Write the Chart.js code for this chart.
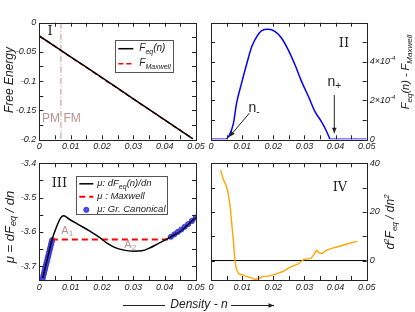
<!DOCTYPE html>
<html>
<head>
<meta charset="utf-8">
<script src="https://cdn.jsdelivr.net/npm/chart.js@4.4.1/dist/chart.umd.min.js"></script>
<style>
  html, body { margin: 0; padding: 0; background: #fff; }
  #wrap { position: relative; width: 415px; height: 312px; }
  #wrap canvas { position: absolute; left: 0; top: 0; }
</style>
</head>
<body>
<div id="wrap">
  <canvas id="c1" width="415" height="312"></canvas>
  <canvas id="c2" width="415" height="312"></canvas>
  <canvas id="c3" width="415" height="312"></canvas>
  <canvas id="c4" width="415" height="312"></canvas>
</div>
<script>
// ---- data ----
// panel I : free energy
const densityF = [0, 0.005, 0.01, 0.015, 0.02, 0.025, 0.03, 0.035, 0.04, 0.045, 0.049];
const fEq      = [-0.0228, -0.0408, -0.0585, -0.0763, -0.0942, -0.1123, -0.1305, -0.1487, -0.1668, -0.1848, -0.1992];
const fMaxwell = [-0.0228, -0.0408, -0.0588, -0.0768, -0.0948, -0.1128, -0.1308, -0.1488, -0.1668, -0.1848, -0.1992];
const pmFmDensity = 0.0069;

// panel II : F_eq - F_Maxwell
const densityDiff = [0, 0.0045, 0.0059, 0.0072, 0.0082, 0.0098, 0.0115, 0.0131, 0.0147, 0.0163, 0.0184, 0.0206,
                     0.0227, 0.0248, 0.027, 0.0291, 0.0313, 0.0334, 0.0355, 0.0369, 0.038, 0.0382, 0.05];
const fDiff = [0, 0, 0.22e-4, 0.82e-4, 1.85e-4, 2.88e-4, 3.9e-4, 4.77e-4, 5.28e-4, 5.59e-4, 5.66e-4, 5.54e-4,
               5.2e-4, 4.6e-4, 3.82e-4, 2.97e-4, 2.2e-4, 1.42e-4, 0.9e-4, 0.48e-4, 0.08e-4, 0, 0];
const diffTickLabels = [0, 2e-4, 4e-4];

// panel III : chemical potential
const densityMu = [0.0011, 0.002, 0.003, 0.004, 0.0053, 0.0064, 0.0072, 0.0078, 0.0096, 0.0128, 0.016, 0.0192,
                   0.0215, 0.024, 0.027, 0.030, 0.0327, 0.0354, 0.0375, 0.0396, 0.042, 0.045, 0.0499];
const muEq = [-3.735, -3.700, -3.662, -3.624, -3.590, -3.566, -3.555, -3.553, -3.563, -3.580, -3.597, -3.616,
              -3.632, -3.645, -3.653, -3.656, -3.655, -3.646, -3.636, -3.626, -3.614, -3.598, -3.558];
const densityMaxwell = [0.004, 0.0412];
const muMaxwell = [-3.622, -3.622];
const densityGc = [0.0011, 0.0013, 0.0015, 0.0017, 0.0019, 0.0021, 0.0023, 0.0025, 0.0027, 0.0029, 0.0031,
                   0.0033, 0.0035, 0.0037, 0.0039, 0.0041,
                   0.042, 0.0431, 0.0442, 0.0453, 0.0464, 0.0475, 0.0487, 0.0499];
const muGc = [-3.735, -3.727, -3.720, -3.712, -3.705, -3.697, -3.690, -3.683, -3.675, -3.668, -3.660,
              -3.653, -3.646, -3.638, -3.631, -3.624,
              -3.614, -3.607, -3.600, -3.593, -3.585, -3.577, -3.568, -3.558];

// panel IV : second derivative
const densityCurv = [0.0031, 0.004, 0.0048, 0.0054, 0.0061, 0.0066, 0.0072, 0.0077, 0.0082, 0.009, 0.0104, 0.012,
                     0.0131, 0.0141, 0.0152, 0.0168, 0.0184, 0.0206, 0.0232, 0.0254, 0.028, 0.0296, 0.0307, 0.032,
                     0.0328, 0.0339, 0.0348, 0.0358, 0.0369, 0.0393, 0.0414, 0.0436, 0.0452, 0.047];
const curvature = [37.2, 33.2, 31.1, 28.4, 22.9, 16.1, 7.9, -0.3, -3.7, -5.5, -6.0, -6.8,
                   -7.1, -7.8, -7.4, -6.5, -6.4, -5.7, -4.4, -2.7, -1.4, 0.3, 0.7, 0.8,
                   2.0, 4.2, 3.1, 2.9, 4.2, 5.2, 5.9, 6.8, 7.4, 7.9];

const xTicks = [0, 0.01, 0.02, 0.03, 0.04, 0.05];

// ---- helpers ----
const W = 415, H = 312;
const SANS = '"Liberation Sans", Arial, sans-serif';
const SERIF = '"DejaVu Serif", serif';
const INK = '#222';
const ROSY = '#bc8f8f';

const pts = (xs, ys) => xs.map((x, i) => ({ x: x, y: ys[i] }));
const isMult = (v, step) => Math.abs(v / step - Math.round(v / step)) < 1e-6;
const fmt = v => String(+v.toFixed(4));

function drawRich(ctx, segs, x, y, o) {
  const sz = o.size, fam = o.family || SANS, st = o.style || 'italic';
  const fontFor = k => st + ' ' + (k === 'n' ? sz : Math.round(sz * 0.7)) + 'px ' + fam;
  let total = 0;
  const widths = segs.map(([t, k]) => {
    ctx.font = fontFor(k);
    const w = ctx.measureText(t).width;
    total += w;
    return w;
  });
  ctx.save();
  ctx.translate(x, y);
  if (o.rotate) ctx.rotate(o.rotate);
  ctx.fillStyle = o.color || INK;
  ctx.textBaseline = 'middle';
  ctx.textAlign = 'left';
  let cx = o.align === 'left' ? 0 : (o.align === 'right' ? -total : -total / 2);
  segs.forEach(([t, k], i) => {
    ctx.font = fontFor(k);
    const dy = k === 'sub' ? sz * 0.3 : (k === 'sup' ? -sz * 0.38 : 0);
    ctx.fillText(t, cx, dy);
    cx += widths[i];
  });
  ctx.restore();
}

function arrow(ctx, x1, y1, x2, y2) {
  const a = Math.atan2(y2 - y1, x2 - x1), L = 6;
  ctx.beginPath();
  ctx.moveTo(x1, y1);
  ctx.lineTo(x2, y2);
  ctx.stroke();
  ctx.beginPath();
  ctx.moveTo(x2, y2);
  ctx.lineTo(x2 - L * Math.cos(a - 0.4), y2 - L * Math.sin(a - 0.4));
  ctx.lineTo(x2 - L * Math.cos(a + 0.4), y2 - L * Math.sin(a + 0.4));
  ctx.closePath();
  ctx.fill();
}

// frame + inward tick marks on all four sides, plus text annotations in data units
const framePlugin = {
  id: 'frame',
  afterDatasetsDraw(chart, args, opts) {
    const ctx = chart.ctx, a = chart.chartArea;
    const xs = chart.scales.x, ys = chart.scales.y;
    ctx.save();
    ctx.strokeStyle = INK;
    ctx.lineWidth = 1;
    const T = 4;
    xs.ticks.forEach(t => {
      const p = Math.round(xs.getPixelForValue(t.value)) + 0.5;
      if (p <= a.left + 1 || p >= a.right - 1) return;
      ctx.beginPath();
      ctx.moveTo(p, a.bottom); ctx.lineTo(p, a.bottom - T);
      ctx.moveTo(p, a.top); ctx.lineTo(p, a.top + T);
      ctx.stroke();
    });
    ys.ticks.forEach(t => {
      const p = Math.round(ys.getPixelForValue(t.value)) + 0.5;
      if (p <= a.top + 1 || p >= a.bottom - 1) return;
      ctx.beginPath();
      ctx.moveTo(a.left, p); ctx.lineTo(a.left + T, p);
      ctx.moveTo(a.right, p); ctx.lineTo(a.right - T, p);
      ctx.stroke();
    });
    ctx.strokeRect(Math.round(a.left) + 0.5, Math.round(a.top) + 0.5,
                   Math.round(a.right - a.left), Math.round(a.bottom - a.top));
    (opts.labels || []).forEach(l => {
      drawRich(ctx, l.segs, xs.getPixelForValue(l.x), ys.getPixelForValue(l.y),
               { size: l.size, family: l.family, style: l.style, color: l.color });
    });
    (opts.arrows || []).forEach(r => {
      ctx.strokeStyle = INK; ctx.fillStyle = INK; ctx.lineWidth = 1;
      arrow(ctx, xs.getPixelForValue(r.from[0]), ys.getPixelForValue(r.from[1]),
                 xs.getPixelForValue(r.to[0]), ys.getPixelForValue(r.to[1]));
    });
    // power-of-ten tick labels on the right axis
    (opts.powerLabels || []).forEach(v => {
      const segs = v === 0 ? [['0', 'n']] : [[Math.round(v * 1e4) + '\u00d710', 'n'], ['-4', 'sup']];
      drawRich(ctx, segs, a.right + 3, ys.getPixelForValue(v), { size: 9, align: 'left' });
    });
    ctx.restore();
  },
  afterDraw(chart, args, opts) {
    const ctx = chart.ctx, a = chart.chartArea;
    (opts.titles || []).forEach(t => {
      drawRich(ctx, t.segs, t.x, t.y, { size: t.size, rotate: -Math.PI / 2 });
    });
    const lg = opts.legend;
    if (lg) {
      const bx = a.left + lg.dx, by = a.top + lg.dy;
      ctx.save();
      ctx.fillStyle = '#fff';
      ctx.fillRect(bx, by, lg.w, lg.h);
      ctx.strokeStyle = '#555';
      ctx.lineWidth = 1;
      ctx.strokeRect(Math.round(bx) + 0.5, Math.round(by) + 0.5, lg.w, lg.h);
      lg.items.forEach((it, i) => {
        const ds = chart.data.datasets[it.ds];
        const yy = by + lg.first + i * lg.gap;
        if (it.kind === 'dot') {
          ctx.fillStyle = ds.backgroundColor;
          ctx.strokeStyle = ds.borderColor;
          ctx.lineWidth = 0.8;
          ctx.beginPath();
          ctx.arc(bx + lg.sx + lg.sw / 2, yy, ds.pointRadius, 0, Math.PI * 2);
          ctx.fill(); ctx.stroke();
        } else {
          ctx.strokeStyle = ds.borderColor;
          ctx.lineWidth = ds.borderWidth;
          ctx.setLineDash(ds.borderDash || []);
          ctx.beginPath();
          ctx.moveTo(bx + lg.sx, yy); ctx.lineTo(bx + lg.sx + lg.sw, yy);
          ctx.stroke();
          ctx.setLineDash([]);
        }
        drawRich(ctx, it.segs, bx + lg.tx, yy, { size: lg.size, align: 'left' });
      });
      ctx.restore();
    }
    if (opts.caption) opts.caption(ctx);
  }
};
Chart.register(framePlugin);

function makeOptions(area, xr, yr, yPos, yStep, yLabel, plug) {
  const yW = 36, xH = 14;
  const padding = {
    top: area.t,
    bottom: H - area.b - xH,
    left: yPos === 'left' ? area.l - yW : area.l,
    right: yPos === 'right' ? W - area.r - yW : W - area.r
  };
  const tickFont = { family: SANS, size: 9, style: 'italic' };
  return {
    responsive: false,
    animation: false,
    devicePixelRatio: 1,
    layout: { padding: padding },
    plugins: { legend: { display: false }, tooltip: { enabled: false }, frame: plug },
    scales: {
      x: {
        type: 'linear', min: xr[0], max: xr[1],
        grid: { display: false, drawTicks: false }, border: { display: false },
        afterFit: s => { s.height = xH; },
        ticks: {
          stepSize: 0.005, autoSkip: false, maxRotation: 0, padding: 2,
          color: INK, font: tickFont,
          callback: v => xTicks.some(t => Math.abs(t - v) < 1e-9) ? fmt(v) : ''
        }
      },
      y: {
        type: 'linear', position: yPos, min: yr[0], max: yr[1],
        grid: { display: false, drawTicks: false }, border: { display: false },
        afterFit: s => { s.width = yW; },
        ticks: { stepSize: yStep, autoSkip: false, padding: 3, color: INK, font: tickFont, callback: yLabel }
      }
    }
  };
}

// ---- panel I ----
new Chart(document.getElementById('c1'), {
  type: 'scatter',
  data: {
    datasets: [
      { data: pts(densityF, fEq), showLine: true, pointRadius: 0, borderColor: '#000', borderWidth: 1.5 },
      { data: pts(densityF, fMaxwell), showLine: true, pointRadius: 0, borderColor: '#ff0000', borderWidth: 1.5, borderDash: [5, 3] },
      { data: pts([pmFmDensity, pmFmDensity], [0, -0.2]), showLine: true, pointRadius: 0, borderColor: ROSY, borderWidth: 1, borderDash: [6, 2, 1, 2] }
    ]
  },
  options: makeOptions({ l: 39.3, t: 22.7, r: 196, b: 139.3 }, [0, 0.05], [-0.2, 0], 'left', 0.025,
    v => isMult(v, 0.05) ? fmt(v) : '',
    {
      labels: [
        { segs: [['I', 'n']], x: 0.0034, y: -0.0154, size: 13, family: SERIF, style: 'normal' },
        { segs: [['PM', 'n']], x: 0.0037, y: -0.164, size: 12, style: 'normal', color: ROSY },
        { segs: [['FM', 'n']], x: 0.0105, y: -0.164, size: 12, style: 'normal', color: ROSY }
      ],
      titles: [{ segs: [['Free Energy', 'n']], x: 10, y: 80, size: 12 }],
      legend: {
        dx: 76, dy: 17, w: 58, h: 32, first: 9, gap: 15, sx: 3, sw: 15, tx: 24, size: 10,
        items: [
          { ds: 0, segs: [['F', 'n'], ['eq', 'sub'], ['(n)', 'n']] },
          { ds: 1, segs: [['F', 'n'], ['Maxwell', 'sub']] }
        ]
      }
    })
});

// ---- panel II ----
new Chart(document.getElementById('c2'), {
  type: 'scatter',
  data: {
    datasets: [
      { data: pts(densityDiff, fDiff), showLine: true, pointRadius: 0, borderColor: '#0000ff', borderWidth: 1.5,
        cubicInterpolationMode: 'monotone' }
    ]
  },
  options: makeOptions({ l: 211, t: 22.7, r: 366.7, b: 139.3 }, [0, 0.05], [0, 6e-4], 'right', 1e-4,
    v => '',
    {
      powerLabels: diffTickLabels,
      labels: [
        { segs: [['II', 'n']], x: 0.0427, y: 4.94e-4, size: 13, family: SERIF, style: 'normal' },
        { segs: [['n', 'n'], ['-', 'sub']], x: 0.0138, y: 1.6e-4, size: 14, style: 'normal' },
        { segs: [['n', 'n'], ['+', 'sub']], x: 0.0396, y: 2.95e-4, size: 14, style: 'normal' }
      ],
      arrows: [
        { from: [0.0123, 1.34e-4], to: [0.0059, 0.13e-4] },
        { from: [0.0396, 2.28e-4], to: [0.0396, 0.31e-4] }
      ],
      titles: [{ segs: [['F', 'n'], ['eq', 'sub'], ['(n) - F', 'n'], ['Maxwell', 'sub']], x: 406, y: 72, size: 11 }]
    })
});

// ---- panel III ----
new Chart(document.getElementById('c3'), {
  type: 'scatter',
  data: {
    datasets: [
      { data: pts(densityMu, muEq), showLine: true, pointRadius: 0, borderColor: '#000', borderWidth: 1.5,
        cubicInterpolationMode: 'monotone' },
      { data: pts(densityMaxwell, muMaxwell), showLine: true, pointRadius: 0, borderColor: '#ff0000', borderWidth: 2, borderDash: [6, 4] },
      { data: pts(densityGc, muGc), showLine: false, pointRadius: 2.6, borderWidth: 0.8,
        backgroundColor: '#4d4dff', borderColor: '#2a2ad0' }
    ]
  },
  options: makeOptions({ l: 39.3, t: 163.3, r: 196, b: 280 }, [0, 0.05], [-3.74, -3.4], 'left', 0.05,
    v => isMult(v, 0.1) ? fmt(v) : '',
    {
      labels: [
        { segs: [['III', 'n']], x: 0.0064, y: -3.458, size: 13, family: SERIF, style: 'normal' },
        { segs: [['A', 'n'], ['1', 'sub']], x: 0.0089, y: -3.597, size: 11, style: 'normal', color: ROSY },
        { segs: [['A', 'n'], ['2', 'sub']], x: 0.029, y: -3.638, size: 11, style: 'normal', color: ROSY }
      ],
      titles: [{ segs: [['\u03bc = dF', 'n'], ['eq', 'sub'], [' / dn', 'n']], x: 10, y: 227, size: 13 }],
      legend: {
        dx: 37, dy: 13, w: 91, h: 38, first: 7.5, gap: 13, sx: 3, sw: 14, tx: 21, size: 9.5,
        items: [
          { ds: 0, segs: [['\u03bc: dF', 'n'], ['eq', 'sub'], ['(n)/dn', 'n']] },
          { ds: 1, segs: [['\u03bc : Maxwell', 'n']] },
          { ds: 2, kind: 'dot', segs: [['\u03bc: Gr. Canonical', 'n']] }
        ]
      },
      caption: ctx => {
        ctx.save();
        ctx.strokeStyle = INK; ctx.fillStyle = INK; ctx.lineWidth = 1;
        ctx.beginPath(); ctx.moveTo(123, 305.5); ctx.lineTo(165, 305.5); ctx.stroke();
        arrow(ctx, 231, 305.5, 274, 305.5);
        ctx.restore();
        drawRich(ctx, [['Density - n', 'n']], 199, 305, { size: 12 });
      }
    })
});

// ---- panel IV ----
new Chart(document.getElementById('c4'), {
  type: 'scatter',
  data: {
    datasets: [
      { data: pts(densityCurv, curvature), showLine: true, pointRadius: 0, borderColor: '#ffa500', borderWidth: 1.4 },
      { data: pts([0, 0.05], [0, 0]), showLine: true, pointRadius: 0, borderColor: '#000', borderWidth: 1 }
    ]
  },
  options: makeOptions({ l: 211, t: 163.3, r: 366.7, b: 280 }, [0, 0.05], [-8, 40], 'right', 10,
    v => (isMult(v, 20) ? fmt(v) : ''),
    {
      labels: [
        { segs: [['IV', 'n']], x: 0.0414, y: 30, size: 13, family: SERIF, style: 'normal' }
      ],
      titles: [{ segs: [['d', 'n'], ['2', 'sup'], ['F', 'n'], ['eq', 'sub'], [' / dn', 'n'], ['2', 'sup']], x: 391, y: 222, size: 12 }]
    })
});
</script>
</body>
</html>
